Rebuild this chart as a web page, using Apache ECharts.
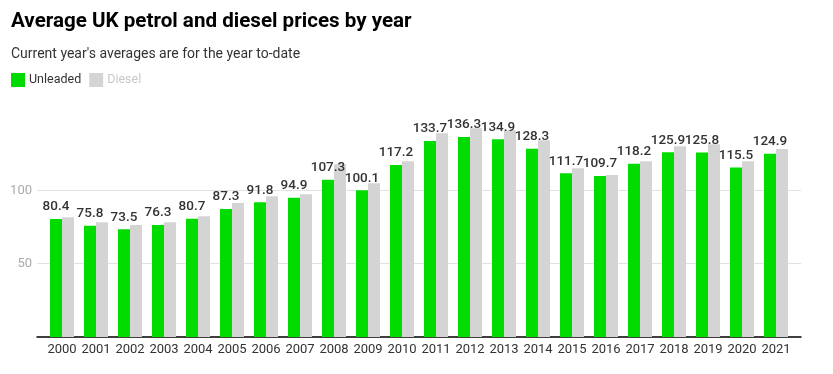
<!DOCTYPE html>
<html><head><meta charset="utf-8">
<script src="https://cdn.jsdelivr.net/npm/echarts@6/dist/echarts.min.js"></script>
<style>html,body{margin:0;padding:0;background:#fff}#c{width:833px;height:374px}</style>
</head><body><div id="c"></div>
<script>
const years = ['2000','2001','2002','2003','2004','2005','2006','2007','2008','2009','2010','2011','2012','2013','2014','2015','2016','2017','2018','2019','2020','2021'];
const unleaded = [80.4,75.8,73.5,76.3,80.7,87.3,91.8,94.9,107.3,100.1,117.2,133.7,136.3,134.9,128.3,111.7,109.7,118.2,125.9,125.8,115.5,124.9];
const diesel = [81.7,78.3,76.3,78.3,82.4,91.3,96.0,97.4,117.8,104.9,119.9,139.0,142.4,141.0,134.2,115.1,110.4,119.9,130.1,131.5,119.9,128.1];
const yTicks = [50,100];

const chart = echarts.init(document.getElementById('c'));
const font = 'Roboto';
chart.setOption({
  animation:false,
  textStyle:{fontFamily:font},
  title:{
    text:'Average UK petrol and diesel prices by year',
    subtext:"Current year's averages are for the year to-date",
    left:11, top:11, itemGap:15, padding:0,
    textStyle:{fontFamily:font,fontSize:20.6,fontWeight:'bold',color:'#000'},
    subtextStyle:{fontFamily:font,fontSize:14,color:'#333'}
  },
  legend:{
    left:11, top:73, padding:0, icon:'rect', itemWidth:14, itemHeight:14, itemGap:8,
    textStyle:{fontFamily:font,fontSize:12.5,color:'#333',padding:[0,0,0,-1]},
    data:[{name:'Unleaded'},{name:'Diesel',textStyle:{color:'#c8c8c8'}}],
    selectedMode:false
  },
  grid:[
    {left:45,right:40,top:117,bottom:37},
    {left:37,right:32,top:117,bottom:37}
  ],
  xAxis:[
    {type:'category',gridIndex:0,data:years,axisLine:{show:false},axisTick:{show:false},
     axisLabel:{fontSize:13,color:'#333',margin:6,interval:0}},
    {type:'category',gridIndex:1,data:[''],axisLine:{show:true,lineStyle:{color:'#000',width:1.5}},axisTick:{show:false},axisLabel:{show:false}}
  ],
  yAxis:[
    {type:'value',gridIndex:0,min:0,max:150,interval:50,show:false,splitLine:{show:false}},
    {type:'value',gridIndex:1,min:0,max:150,interval:50,
     axisLine:{show:false},axisTick:{show:false},
     axisLabel:{fontSize:13,color:'#aaa',margin:5,showMinLabel:false,showMaxLabel:false,
       formatter:v=>yTicks.includes(v)?String(v):''},
     splitLine:{show:true,showMinLine:false,showMaxLine:false,lineStyle:{color:'#e2e2e2',width:1}}}
  ],
  series:[
    {name:'Unleaded',type:'bar',xAxisIndex:0,yAxisIndex:0,data:unleaded,barWidth:12,barGap:'0%',
     itemStyle:{color:'#00dc00'},
     label:{show:true,position:'top',distance:5,fontSize:13.5,fontWeight:500,color:'#333',fontFamily:font}},
    {name:'Diesel',type:'bar',xAxisIndex:0,yAxisIndex:0,data:diesel,barWidth:12,barGap:'0%',
     itemStyle:{color:'#d4d4d4'}}
  ]
});
</script></body></html>
